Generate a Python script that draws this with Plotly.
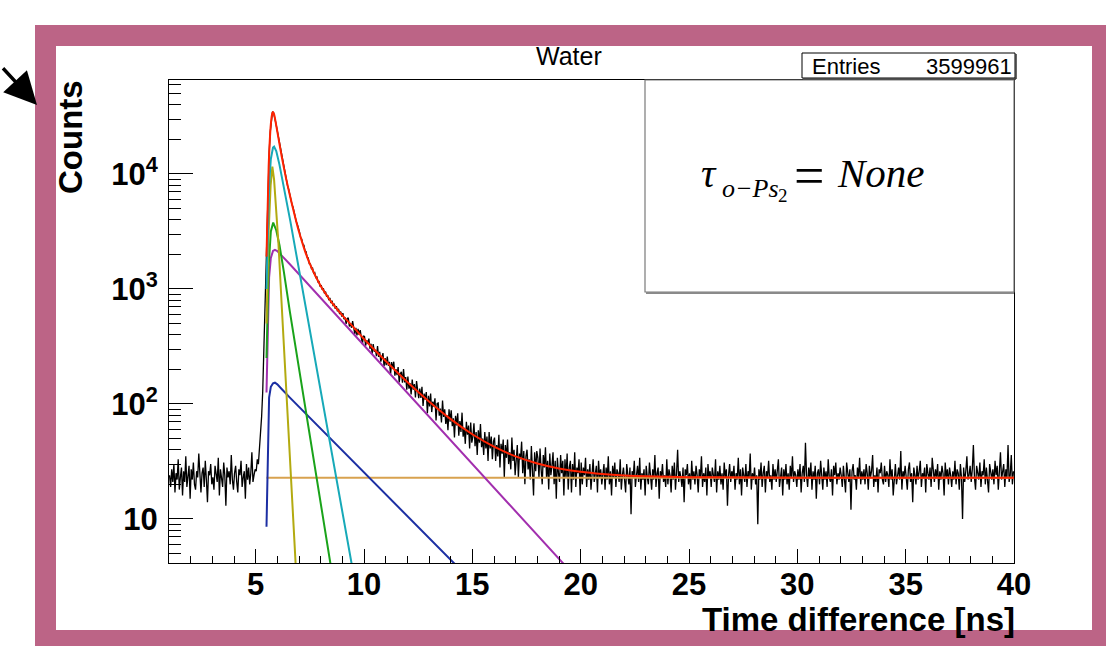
import plotly.graph_objects as go

# ---------------- data ----------------
BIN_START = 1.0     # ns, lower edge of first bin
BIN_WIDTH = 0.05    # ns

counts = [
    # 1-2 ns
    24, 19, 27, 21, 30, 17, 25, 22, 33, 18, 23, 28, 16, 26, 21, 35, 19, 24, 29, 15,
    # 2-3
    27, 22, 31, 20, 18, 26, 23, 37, 21, 17, 25, 28, 19, 32, 22, 14, 26, 24, 30, 20,
    # 3-4
    23, 18, 29, 25, 21, 34, 16, 27, 22, 19, 31, 24, 13, 28, 23, 26, 20, 36, 22, 18,
    # 4-5
    25, 29, 21, 17, 27, 24, 32, 19, 23, 26, 15, 30, 22, 28, 20, 25, 38, 21, 24, 27,
    # 5-6
    26, 33, 30, 41, 52, 78, 128, 290, 760, 1850, 4300, 8800, 15600, 23400, 30300, 34700, 34100, 31600, 28100, 25000,
    # 6-7
    22150, 19100, 17350, 14980, 13610, 11950, 10950, 9600, 8890, 7860, 7330, 6510, 6090, 5440, 5130, 4580, 4320, 3850, 3630, 3230,
    # 7-8
    3120, 2790, 2720, 2450, 2410, 2150, 2110, 1890, 1860, 1660, 1650, 1500, 1520, 1370, 1390, 1255, 1270, 1150, 1160, 1050,
    # 8-9
    1080, 980, 1010, 915, 950, 860, 885, 800, 835, 755, 790, 710, 745, 672, 708, 640, 672, 605, 635, 575,
    # 9-10
    615, 546, 566, 498, 551, 561, 472, 504, 460, 525, 448, 405, 460, 395, 449, 398, 439, 369, 331, 392,
    # 10-11
    385, 321, 358, 333, 370, 302, 334, 272, 332, 285, 296, 260, 318, 257, 284, 233, 263, 277, 213, 250,
    # 11-12
    217, 258, 215, 232, 181, 231, 203, 233, 176, 201, 178, 209, 154, 183, 190, 153, 201, 154, 171, 133,
    # 12-13
    173, 136, 152, 121, 163, 133, 149, 114, 158, 124, 112, 136, 113, 141, 96, 123, 109, 127, 83, 118,
    # 13-14
    95, 123, 85, 105, 95, 112, 72, 101, 102, 79, 91, 69, 107, 77, 90, 67, 80, 59, 90, 70,
    # 14-15
    88, 64, 75, 51, 79, 65, 83, 53, 71, 57, 84, 52, 62, 45, 70, 54, 65, 41, 69, 46,
    # 15-16
    52, 68, 43, 57, 36, 59, 46, 67, 42, 50, 36, 57, 41, 52, 32, 57, 41, 52, 33, 47,
    # 16-17
    51, 32, 44, 35, 54, 28, 45, 37, 49, 23, 44, 34, 49, 30, 38, 27, 51, 32, 40, 24,
    # 17-18
    32, 44, 23, 37, 33, 47, 25, 39, 20, 35, 40, 27, 33, 22, 43, 29, 16, 38, 26, 39,
    # 18-19
    34, 23, 41, 27, 20, 36, 28, 42, 23, 32, 18, 37, 24, 29, 38, 20, 32, 15, 34, 25,
    # 19-20
    21, 36, 25, 32, 16, 33, 23, 37, 18, 28, 32, 17, 30, 22, 38, 19, 28, 25, 33, 16,
    # 20-21
    31, 20, 28, 24, 34, 19, 27, 22, 30, 18, 26, 33, 21, 25, 29, 17, 32, 23, 27, 20,
    # 21-22
    24, 30, 18, 28, 22, 35, 20, 26, 16, 29, 23, 31, 19, 27, 25, 21, 33, 18, 24, 28,
    # 22-23
    22, 17, 30, 25, 20, 28, 11, 26, 23, 32, 19, 24, 29, 21, 34, 18, 25, 22, 27, 16,
    # 23-24
    29, 23, 20, 31, 24, 18, 27, 22, 36, 19, 25, 28, 15, 26, 23, 30, 21, 24, 19, 33,
    # 24-25
    20, 27, 24, 17, 29, 22, 31, 18, 25, 40, 21, 26, 23, 19, 28, 14, 27, 24, 30, 20,
    # 25-26
    25, 18, 32, 22, 26, 20, 29, 24, 17, 27, 23, 35, 19, 25, 21, 28, 16, 30, 23, 26,
    # 26-27
    19, 28, 24, 21, 33, 17, 26, 22, 29, 20, 25, 18, 31, 23, 27, 13, 24, 30, 21, 26,
    # 27-28
    23, 29, 18, 25, 22, 34, 20, 27, 16, 28, 24, 21, 30, 19, 26, 23, 37, 18, 25, 22,
    # 28-29
    28, 20, 24, 9, 27, 22, 31, 19, 25, 29, 17, 26, 23, 32, 21, 24, 18, 30, 22, 27,
    # 29-30
    21, 26, 33, 19, 24, 28, 16, 27, 22, 30, 20, 25, 18, 29, 23, 35, 21, 26, 24, 19,
    # 30-31
    27, 22, 30, 17, 25, 29, 21, 46, 24, 19, 28, 23, 31, 18, 26, 22, 29, 15, 25, 27,
    # 31-32
    20, 32, 24, 18, 28, 22, 26, 19, 33, 23, 21, 27, 16, 29, 24, 31, 20, 25, 22, 28,
    # 32-33
    24, 19, 29, 23, 17, 31, 25, 21, 27, 12, 26, 30, 22, 24, 18, 28, 23, 34, 20, 26,
    # 33-34
    22, 27, 20, 30, 25, 18, 29, 23, 26, 36, 19, 24, 21, 28, 17, 27, 25, 31, 22, 20,
    # 34-35
    29, 21, 26, 24, 19, 33, 22, 27, 16, 25, 30, 20, 24, 28, 22, 39, 18, 26, 23, 29,
    # 35-36
    23, 18, 27, 31, 21, 25, 14, 28, 24, 20, 29, 22, 26, 32, 19, 25, 23, 28, 17, 30,
    # 36-37
    25, 22, 28, 19, 34, 24, 21, 27, 23, 30, 18, 26, 22, 29, 25, 16, 31, 23, 27, 20,
    # 37-38
    28, 24, 19, 26, 22, 32, 20, 27, 25, 18, 30, 23, 10, 28, 21, 26, 35, 22, 24, 29,
    # 38-39
    21, 27, 44, 23, 18, 29, 25, 22, 31, 19, 26, 24, 33, 20, 28, 23, 17, 30, 25, 22,
    # 39-40
    27, 20, 32, 24, 29, 18, 26, 38, 22, 25, 30, 19, 27, 23, 44, 21, 24, 36, 20, 26,
]

# total fit (red)
red_x = [5.5, 5.6, 5.7, 5.77, 5.8, 5.85, 5.95, 6.05, 6.2, 6.4, 6.6, 6.8, 7.0, 7.25, 7.5, 8.0, 8.25, 8.5, 9.0, 9.5,
         10, 11, 12, 13, 14, 15, 16, 17, 18, 19, 20, 21, 22, 23, 24, 26, 30, 40]
red_y = [1910, 11670, 27000, 33800, 34500, 33000, 26400, 20600, 14240, 9200, 6280, 4375, 3140, 2211, 1650, 1060, 899, 767, 589, 468,
         367, 236, 155, 105, 73.8, 54.5, 42.5, 35.0, 30.4, 27.5, 25.7, 24.6, 23.9, 23.5, 23.25, 23.0, 22.85, 22.8]

# fit components
cyan_x = [5.5, 5.56, 5.62, 5.7, 5.8, 5.85, 5.95, 6.1, 6.3, 6.6, 9.8]
cyan_y = [1000, 3160, 7940, 13500, 17000, 17300, 15800, 12000, 7590, 3890, 1.66]
yellow_x = [5.5, 5.6, 5.69, 5.77, 5.85, 5.95, 6.05, 6.19, 6.5, 6.81, 6.95]
yellow_y = [500, 3160, 7940, 11560, 8910, 5010, 2510, 794, 70.8, 5.37, 1.74]
green_x = [5.5, 5.6, 5.7, 5.81, 5.95, 6.1, 6.3, 6.58, 8.7]
green_y = [251, 1585, 3160, 3780, 3240, 2400, 1413, 631, 2.09]
magenta_x = [5.5, 5.56, 5.62, 5.7, 5.8, 5.89, 6.0, 6.2, 6.58, 19.5]
magenta_y = [126, 501, 1259, 1862, 2138, 2188, 2138, 1950, 1641, 3.55]
blue_x = [5.5, 5.56, 5.62, 5.7, 5.8, 5.89, 6.0, 6.2, 6.58, 15.0]
blue_y = [8.57, 39.8, 113.5, 141, 151, 153, 148, 135, 113.5, 2.85]
bkg_x = [5.5, 40.0]
bkg_y = [22.8, 22.8]

y_tickvals = [10, 100, 1000, 10000]
y_ticktext = ["10", "10<sup>2</sup>", "10<sup>3</sup>", "10<sup>4</sup>"]

title_text = "Water"
entries_label = "Entries"
entries_value = "3599961"
x_title = "Time difference [ns]"
y_title = "Counts"

# ---------------- figure ----------------
W, H = 1106, 646
L, R, T, B = 169, 1014, 80, 563


def X(p):
    return (p - L) / (R - L)


def Y(p):
    return (B - p) / (B - T)


bin_centers = [BIN_START + BIN_WIDTH * (i + 0.5) for i in range(len(counts))]

fig = go.Figure()
fig.add_trace(go.Scatter(x=bin_centers, y=counts, mode="lines",
                         line=dict(color="black", width=1.3), hoverinfo="skip"))

comps = [
    (bkg_x, bkg_y, "#d8a24f"),
    (blue_x, blue_y, "#1c2fa3"),
    (magenta_x, magenta_y, "#a22fae"),
    (green_x, green_y, "#1aa31a"),
    (yellow_x, yellow_y, "#b3aa10"),
    (cyan_x, cyan_y, "#17a9b8"),
]
for xs, ys, col in comps:
    fig.add_trace(go.Scatter(x=xs, y=ys, mode="lines", line=dict(color=col, width=2), hoverinfo="skip"))

fig.add_trace(go.Scatter(x=red_x, y=red_y, mode="lines", line=dict(color="#ff2200", width=2, shape="spline", smoothing=0.6),
                         hoverinfo="skip"))

minor_y = [m * 10 ** e for e in range(0, 5) for m in range(2, 10)]

fig.update_layout(
    template="none",
    width=W, height=H,
    margin=dict(l=L, r=W - R, t=T, b=H - B, pad=0),
    paper_bgcolor="white", plot_bgcolor="white",
    showlegend=False, hovermode=False,
    font=dict(family="Liberation Sans", color="black"),
)
fig.update_xaxes(
    range=[1, 40], tick0=0, dtick=5, automargin=False,
    ticks="inside", ticklen=14, tickwidth=1, tickcolor="black",
    showline=True, linecolor="black", linewidth=1, mirror=True,
    showgrid=False, zeroline=False, ticklabelstandoff=-6,
    tickfont=dict(family="Liberation Sans", size=31, weight="bold", color="black"),
    minor=dict(ticks="inside", ticklen=7, tickwidth=1, tickcolor="black", tick0=0, dtick=1, showgrid=False),
)
fig.update_yaxes(
    type="log", range=[0.617, 4.817], automargin=False,
    tickmode="array", tickvals=y_tickvals, ticktext=y_ticktext,
    ticks="inside", ticklen=24, tickwidth=1, tickcolor="black",
    showline=True, linecolor="black", linewidth=1, mirror=True,
    showgrid=False, zeroline=False, ticklabelstandoff=4,
    tickfont=dict(family="Liberation Sans", size=31, weight="bold", color="black"),
    minor=dict(tickmode="array", tickvals=minor_y, ticks="inside", ticklen=12, tickwidth=1,
               tickcolor="black", showgrid=False),
)

PINK = "#bc6486"
shapes = []


def rect(x0, y0, x1, y1, **kw):
    d = dict(type="rect", xref="paper", yref="paper", x0=X(x0), x1=X(x1), y0=Y(y1), y1=Y(y0))
    d.update(kw)
    return d


def seg(x0, y0, x1, y1, **kw):
    d = dict(type="line", xref="paper", yref="paper", x0=X(x0), x1=X(x1), y0=Y(y0), y1=Y(y1))
    d.update(kw)
    return d


# pink frame
for (a, b, c, d) in [(35, 25, 1130, 46), (35, 25, 56, 670), (1092, 25, 1130, 670), (35, 630, 1130, 670)]:
    shapes.append(rect(a, b, c, d, fillcolor=PINK, line=dict(width=0), layer="below"))

# stats box
shapes.append(rect(802, 53, 1015, 78, fillcolor="white", line=dict(color="black", width=1), layer="above"))
shapes.append(seg(803, 79, 1016, 79, line=dict(color="#333333", width=1.5), layer="above"))
shapes.append(seg(1016, 54, 1016, 79, line=dict(color="#333333", width=1.5), layer="above"))
# text pave
shapes.append(rect(645, 80, 1014, 292, fillcolor="white", line=dict(color="#7a7a7a", width=1.2), layer="above"))
shapes.append(seg(646, 293, 1014, 293, line=dict(color="#8a8a8a", width=2), layer="above"))

fig.update_layout(shapes=shapes)


def ann(text, xp, yp, size, xanchor="center", yanchor="middle", family="Liberation Sans",
        weight="normal", style="normal", angle=0):
    return dict(text=text, x=X(xp), y=Y(yp), xref="paper", yref="paper", xanchor=xanchor, yanchor=yanchor,
                showarrow=False, textangle=angle, borderpad=0,
                font=dict(size=size, family=family, weight=weight, style=style, color="black"))


SERIF = "Liberation Serif"
annotations = [
    ann(title_text, 569, 56, 25),
    ann(entries_label, 811, 66, 22, xanchor="left"),
    ann(entries_value, 1013, 66, 22, xanchor="right"),
    ann(y_title, 70, 137, 33, weight="bold", angle=-90),
    ann(x_title, 1016, 619, 33, xanchor="right", weight="bold"),
    ann("τ", 700, 187 - 0.3375 * 40, 40, xanchor="left", family=SERIF, style="italic"),
    ann("o−Ps", 721, 197 - 0.3375 * 26, 26, xanchor="left", family=SERIF, style="italic"),
    ann("2", 777, 202 - 0.3375 * 19, 19, xanchor="left", family=SERIF),
    ann("=", 809, 194 - 0.3375 * 54, 54, xanchor="center", family=SERIF),
    ann("None", 836, 187 - 0.3375 * 41, 41, xanchor="left", family=SERIF, style="italic"),
    dict(text=" ", x=X(37), y=Y(105), xref="paper", yref="paper", showarrow=True,
         ax=-50, ay=-40, arrowhead=2, arrowsize=1.9, arrowwidth=3.4, arrowcolor="black", standoff=0),
]
fig.update_layout(annotations=annotations)

fig.write_html("out.html", config={"displayModeBar": False},
               post_script="document.body.style.margin='0px'; document.body.style.overflow='hidden';")
